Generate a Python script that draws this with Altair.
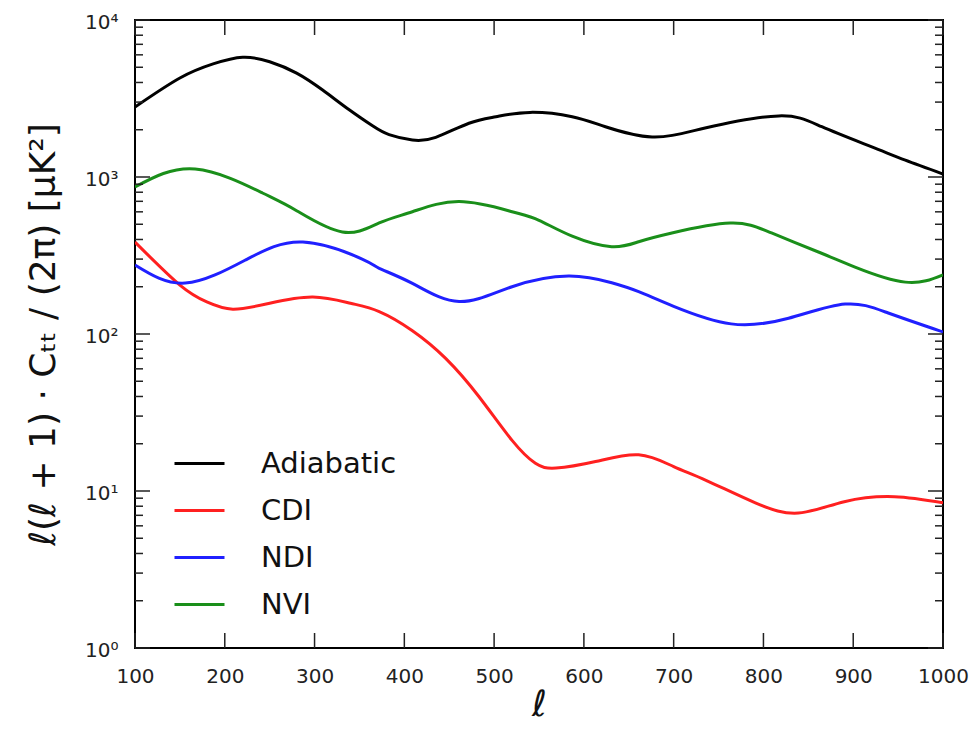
import altair as alt
import pandas as pd

W, H = 808, 628

series_names = ["Adiabatic", "CDI", "NDI", "NVI"]
series_colors = ["#000000", "#ff2020", "#2020ff", "#1a8f1a"]

adi_ell = [100, 150, 187, 220, 250, 280, 309, 339, 365, 383, 409, 435, 472, 502, 540, 587, 624, 676, 735, 817, 865, 920, 958, 1000]
adi_val = [2790, 4270, 5250, 5790, 5420, 4590, 3580, 2670, 2110, 1860, 1720, 1790, 2200, 2420, 2580, 2420, 2090, 1800, 2050, 2450, 2090, 1560, 1280, 1045]

cdi_ell = [100, 150, 180, 209, 250, 298, 340, 372, 409, 446, 483, 520, 546, 569, 613, 661, 700, 736, 791, 839, 890, 946, 1000]
cdi_val = [385, 205, 160, 144, 157, 172, 157, 139, 105, 70, 40, 21, 15, 14, 15.4, 17, 14.3, 11.7, 8.4, 7.24, 8.55, 9.2, 8.4]

ndi_ell = [100, 156, 224, 287, 353, 372, 409, 461, 520, 583, 631, 661, 700, 764, 828, 891, 939, 1000]
ndi_val = [275, 211, 298, 385, 300, 262, 210, 161, 200, 234, 212, 186, 150, 116, 126, 155, 136, 103]

nvi_ell = [100, 167, 242, 280, 331, 372, 409, 461, 520, 550, 587, 631, 661, 698, 763, 809, 864, 902, 958, 1000]
nvi_val = [863, 1125, 791, 610, 446, 510, 601, 697, 601, 530, 420, 360, 387, 440, 509, 440, 328, 267, 214, 238]

x_major = [100, 200, 300, 400, 500, 600, 700, 800, 900, 1000]
y_major = [1, 10, 100, 1000, 10000]
y_minor = [m * 10 ** e for e in range(4) for m in range(2, 10)]
y_labels = {1: "10⁰", 10: "10¹", 100: "10²", 1000: "10³", 10000: "10⁴"}

rows = []
for name, ls, vs in [("Adiabatic", adi_ell, adi_val), ("CDI", cdi_ell, cdi_val),
                     ("NDI", ndi_ell, ndi_val), ("NVI", nvi_ell, nvi_val)]:
    for l, v in zip(ls, vs):
        rows.append({"series": name, "ell": l, "value": v})
df = pd.DataFrame(rows)

xscale = alt.Scale(domain=[100, 1000], nice=False, zero=False)
yscale = alt.Scale(type="log", domain=[1, 10000], nice=False)

label_expr = " : ".join(
    [f"datum.value == {k} ? '{v}'" for k, v in y_labels.items()]
) + " : ''"

x_axis = alt.Axis(values=x_major, format="d", ticks=False, domain=False, grid=False,
                  labelFlush=False, labelOverlap=False, labelBound=False,
                  labelFont="DejaVu Sans", labelFontSize=20, labelColor="#222",
                  labelPadding=18, title="ℓ", titleFont="DejaVu Sans",
                  titleFontSize=36, titleFontStyle="italic", titleFontWeight="normal",
                  titleColor="#111", titlePadding=1)
y_axis = alt.Axis(values=y_major, labelExpr=label_expr, ticks=False, domain=False,
                  grid=False, labelFlush=False, labelOverlap=False,
                  labelFont="DejaVu Sans", labelFontSize=20,
                  labelColor="#222", labelPadding=17, labelBaseline="middle", labelOffset=2,
                  title="ℓ(ℓ + 1) · Cₜₜ / (2π) [μK²]", titleFont="DejaVu Sans",
                  titleFontSize=36, titleFontWeight="normal", titleColor="#111",
                  titlePadding=22)

lines = alt.Chart(df).mark_line(strokeWidth=3, interpolate="natural", clip=True).encode(
    x=alt.X("ell:Q", scale=xscale, axis=x_axis),
    y=alt.Y("value:Q", scale=yscale, axis=y_axis),
    color=alt.Color("series:N",
                    scale=alt.Scale(domain=series_names, range=series_colors),
                    legend=alt.Legend(title=None, orient="none", legendX=38, legendY=417,
                                      symbolType="stroke", symbolSize=2500,
                                      symbolStrokeWidth=3, labelFont="DejaVu Sans",
                                      labelFontSize=29, labelColor="#111", labelOffset=35,
                                      rowPadding=5, padding=0)),
)

xt = pd.DataFrame({"ell": x_major})
ymj = pd.DataFrame({"value": y_major})
ymn = pd.DataFrame({"value": y_minor})

tick_color = "#222"

def xticks(y0, y1):
    return alt.Chart(xt).mark_rule(color=tick_color, strokeWidth=1.5).encode(
        x=alt.X("ell:Q", scale=xscale, axis=x_axis), y=alt.value(y0), y2=alt.value(y1))

def yticks(data, x0, x1):
    return alt.Chart(data).mark_rule(color=tick_color, strokeWidth=1.5).encode(
        y=alt.Y("value:Q", scale=yscale, axis=y_axis), x=alt.value(x0), x2=alt.value(x1))

chart = alt.layer(
    lines,
    xticks(H - 15, H), xticks(0, 15),
    yticks(ymj, 0, 15), yticks(ymn, 0, 8),
    yticks(ymj, W - 15, W), yticks(ymn, W - 8, W),
).properties(
    width=W, height=H,
    autosize=alt.AutoSizeParams(type="none"),
    padding={"left": 127, "top": 12, "right": 26, "bottom": 74},
).configure(background="white").configure_view(stroke="#000", strokeWidth=2)

chart.save("out.html", embed_options={"renderer": "svg", "actions": False})
